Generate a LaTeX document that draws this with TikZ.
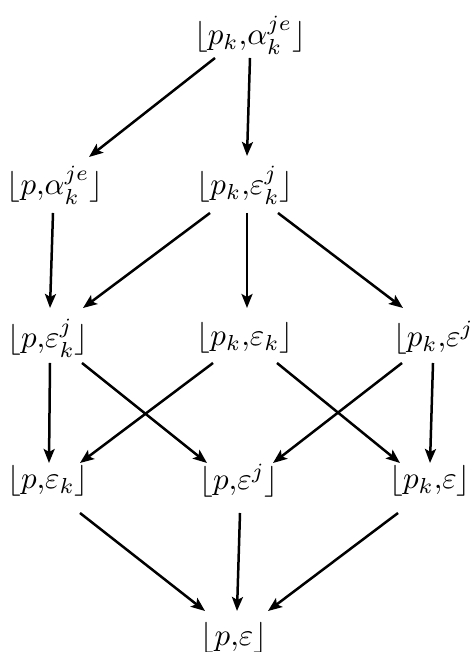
\documentclass[tikz,border=0pt]{standalone}
\usepackage{graphicx}
\usetikzlibrary{arrows.meta}
\newcommand{\latt}[1]{\scalebox{3.1}{\fontsize{10}{12}\selectfont$\lfloor #1\rfloor$}}
\begin{document}
\begin{tikzpicture}[
  lat/.style={inner sep=0pt, outer sep=0pt},
  arr/.style={line width=2.5pt, -{Stealth[length=14pt,width=11pt,inset=3pt]}}
]
\useasboundingbox (0,0) rectangle (472pt,652pt);
\clip (0,0) rectangle (472pt,652pt);
\fill[white] (0,0) rectangle (472pt,652pt);

\node[lat] (top) at (250pt,617pt) {\latt{p_k{,}\alpha_k^{je}}};
\node[lat] (A) at (55pt,467pt) {\latt{p{,}\alpha_k^{je}}};
\node[lat] (B) at (245pt,467pt) {\latt{p_k{,}\varepsilon_k^{j}}};
\node[lat] (C) at (48pt,314pt) {\latt{p{,}\varepsilon_k^{j}}};
\node[lat] (D) at (245pt,314pt) {\latt{p_k{,}\varepsilon_k}};
\node[lat,anchor=west] (E) at (393pt,314pt) {\latt{p_k{,}\varepsilon^{j}}};
\node[lat] (F) at (48pt,171pt) {\latt{p{,}\varepsilon_k}};
\node[lat] (G) at (239pt,171pt) {\latt{p{,}\varepsilon^{j}}};
\node[lat] (H) at (430pt,171pt) {\latt{p_k{,}\varepsilon}};
\node[lat] (I) at (234pt,14pt) {\latt{p{,}\varepsilon}};

\draw[arr] ([xshift=-35pt,yshift=-23pt]top.center) -- ([xshift=34pt,yshift=28pt]A.center);
\draw[arr] ([xshift=0pt,yshift=-23pt]top.center) -- ([xshift=2pt,yshift=29pt]B.center);

\draw[arr] ([xshift=-2pt,yshift=-28pt]A.center) -- ([xshift=2pt,yshift=30pt]C.center);
\draw[arr] ([xshift=-35pt,yshift=-28pt]B.center) -- ([xshift=35pt,yshift=30pt]C.center);
\draw[arr] ([xshift=2pt,yshift=-28pt]B.center) -- ([xshift=2pt,yshift=30pt]D.center);
\draw[arr] ([xshift=33pt,yshift=-28pt]B.center) -- ([xshift=10pt,yshift=30pt]E.west);

\draw[arr] ([xshift=2pt,yshift=-25pt]C.center) -- ([xshift=1pt,yshift=18pt]F.center);
\draw[arr] ([xshift=34pt,yshift=-25pt]C.center) -- ([xshift=-32pt,yshift=18pt]G.center);
\draw[arr] ([xshift=-32pt,yshift=-25pt]D.center) -- ([xshift=32pt,yshift=18pt]F.center);
\draw[arr] ([xshift=32pt,yshift=-25pt]D.center) -- ([xshift=-30pt,yshift=18pt]H.center);
\draw[arr] ([xshift=9pt,yshift=-25pt]E.west) -- ([xshift=34pt,yshift=18pt]G.center);
\draw[arr] ([xshift=40pt,yshift=-25pt]E.west) -- ([xshift=0pt,yshift=18pt]H.center);

\draw[arr] ([xshift=32pt,yshift=-32pt]F.center) -- ([xshift=-29pt,yshift=27pt]I.center);
\draw[arr] ([xshift=1pt,yshift=-32pt]G.center) -- ([xshift=3pt,yshift=27pt]I.center);
\draw[arr] ([xshift=-32pt,yshift=-32pt]H.center) -- ([xshift=34pt,yshift=27pt]I.center);
\end{tikzpicture}
\end{document}
